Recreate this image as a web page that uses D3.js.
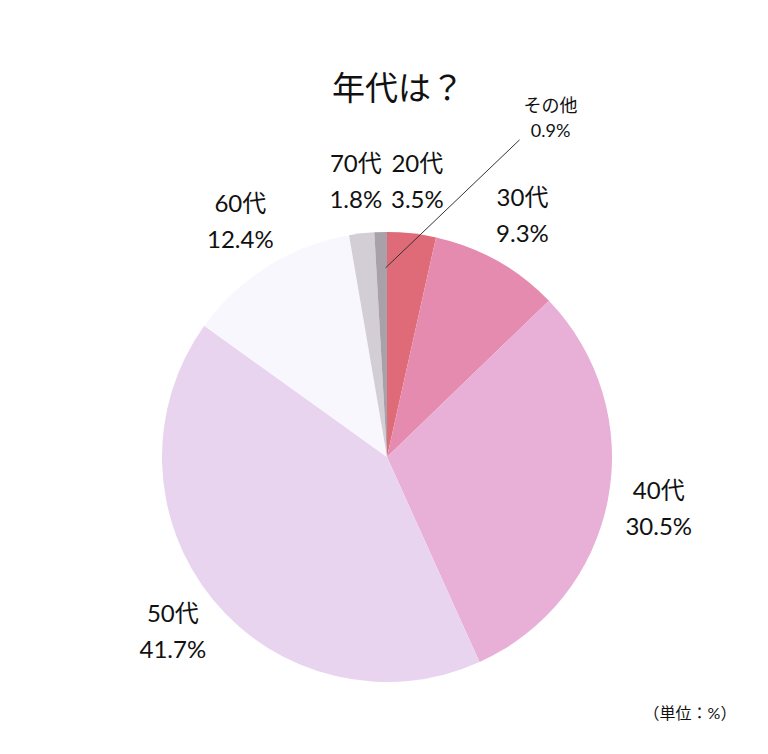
<!DOCTYPE html>
<html>
<head>
<meta charset="utf-8">
<script src="https://cdn.jsdelivr.net/npm/d3@7"></script>
<style>
html,body{margin:0;padding:0;background:#fff;}
svg{display:block;}
text{font-family:"Lato","Noto Sans CJK JP",sans-serif;fill:#111;}
</style>
</head>
<body>
<svg id="chart" width="768" height="754"></svg>
<script>
const categories = ["20代","30代","40代","50代","60代","70代","その他"];
const values = [3.5, 9.3, 30.5, 41.7, 12.4, 1.8, 0.9];
const colors = ["#de6b77","#e68bb0","#e8b0d7","#e9d4f0","#f9f7fe","#d3ced6","#a9a1a9"];
const titleText = "年代は？";
const unitText = "（単位：%）";

const svg = d3.select("#chart");
const cx = 387, cy = 457, R = 225;
const data = categories.map((c,i)=>({name:c, value:values[i], color:colors[i]}));

const pie = d3.pie().value(d=>d.value).sort(null);
const arcs = pie(data);
const arc = d3.arc().innerRadius(0).outerRadius(R);
const labelArc = d3.arc().innerRadius(R*1.23).outerRadius(R*1.23);
const innerArc = d3.arc().innerRadius(R*0.85).outerRadius(R*0.85);

const g = svg.append("g").attr("transform",`translate(${cx},${cy})`);
g.selectAll("path").data(arcs).enter().append("path")
  .attr("d", arc).attr("fill", d=>d.data.color);

svg.append("text").attr("x",398).attr("y",100).attr("text-anchor","middle")
  .style("font-size","33px").text(titleText);

// regular labels
const main = arcs.filter(d=>d.data.name!=="その他");
const lg = g.selectAll("g.lbl").data(main).enter().append("g").attr("class","lbl")
  .attr("transform", d=>`translate(${labelArc.centroid(d)})`);
lg.append("text").attr("text-anchor","middle").attr("y",-10)
  .style("font-size","24px").text(d=>d.data.name);
lg.append("text").attr("text-anchor","middle").attr("y",26)
  .style("font-size","24px").text(d=>d.data.value.toFixed(1)+"%");

// small slice with leader line
const other = arcs.find(d=>d.data.name==="その他");
const p0 = innerArc.centroid(other);
const p1 = [p0[0]+138, p0[1]-126];
g.append("line").attr("x1",p0[0]+4).attr("y1",p0[1]+2).attr("x2",p1[0]).attr("y2",p1[1])
  .attr("stroke","#333").attr("stroke-width",1);
g.append("text").attr("x",p1[0]+31).attr("y",p1[1]-28).attr("text-anchor","middle")
  .style("font-size","18px").text(other.data.name);
g.append("text").attr("x",p1[0]+31).attr("y",p1[1]-3).attr("text-anchor","middle")
  .style("font-size","18px").text(other.data.value.toFixed(1)+"%");

svg.append("text").attr("x",690).attr("y",719).attr("text-anchor","middle")
  .style("font-size","16px").text(unitText);
</script>
</body>
</html>
